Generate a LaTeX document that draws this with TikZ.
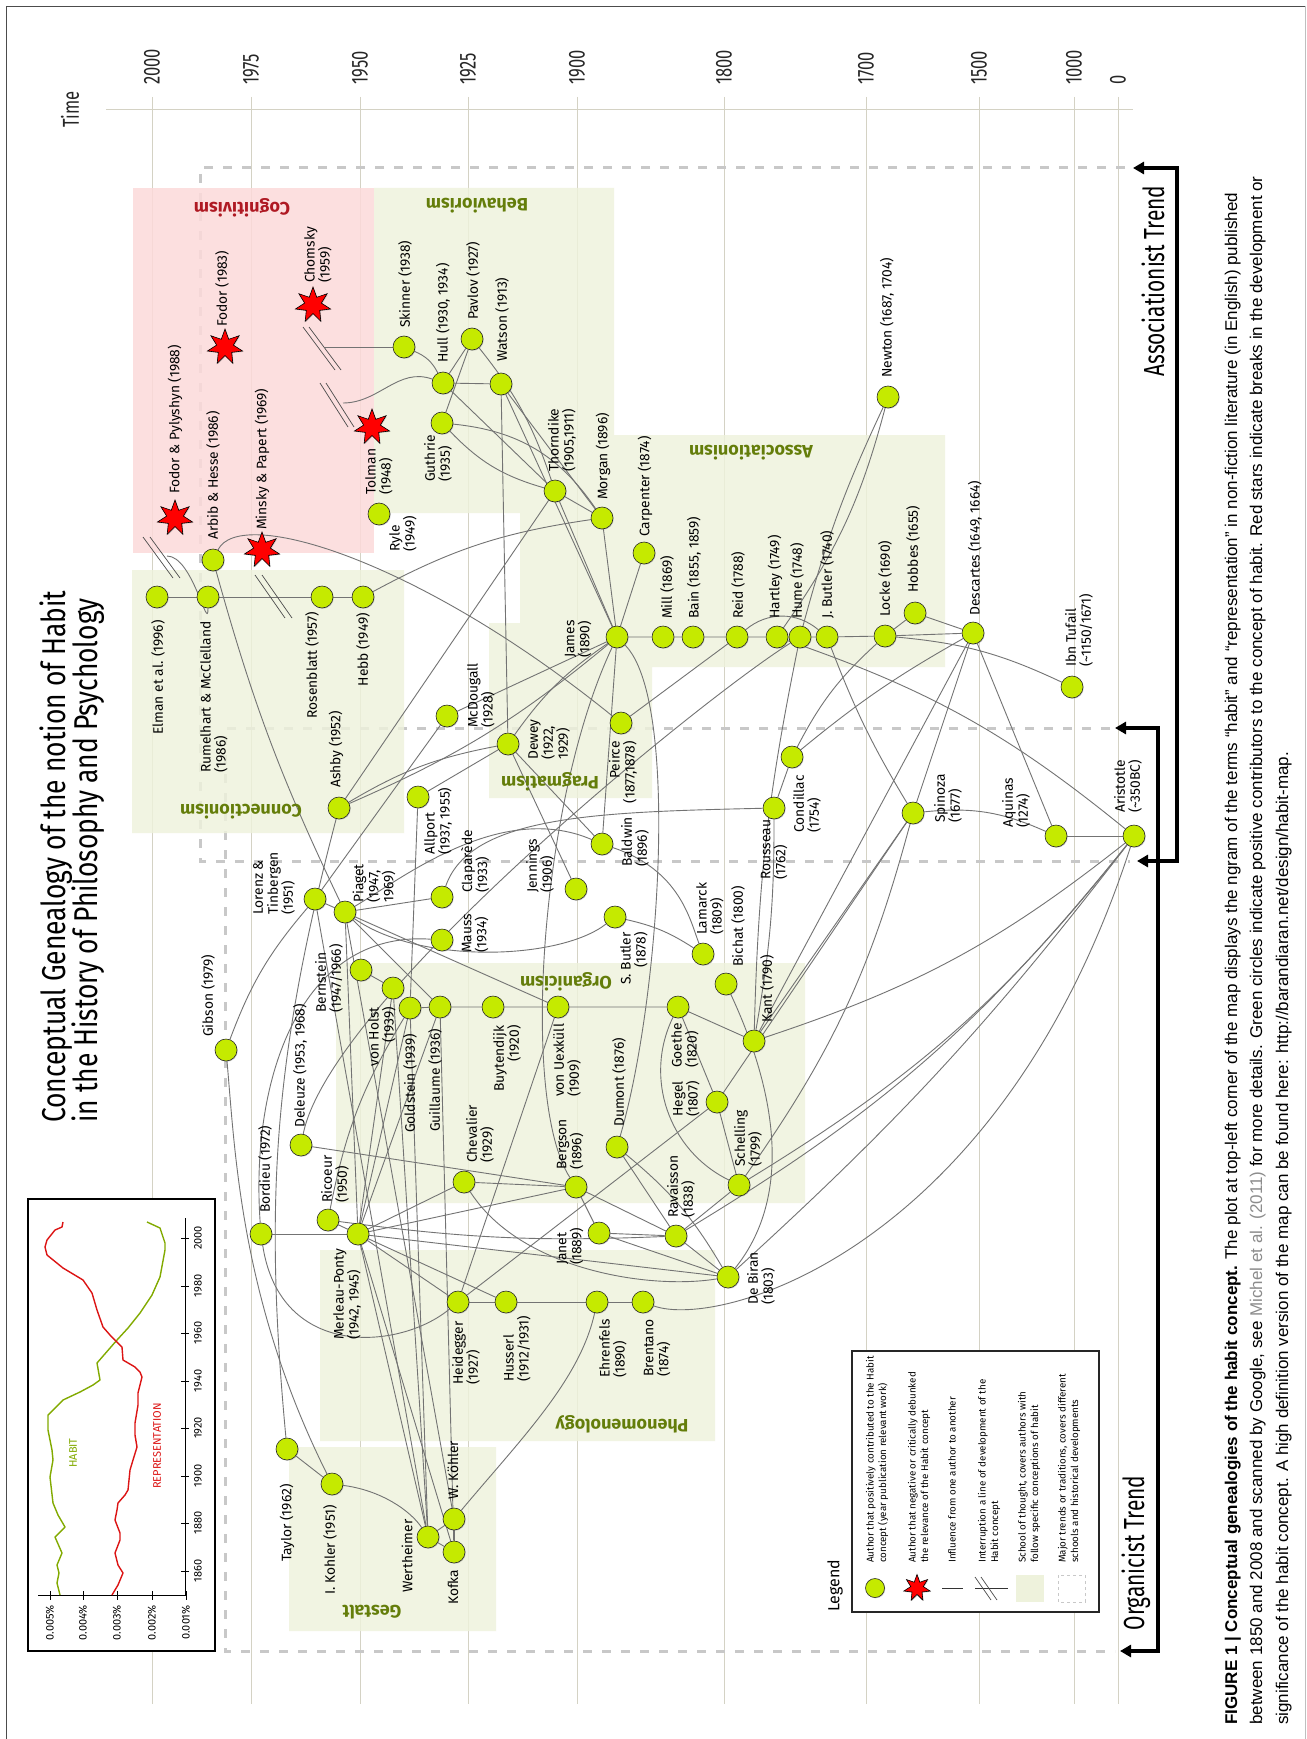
\documentclass[tikz,border=0pt]{standalone}
\usepackage{fontspec}
\setmainfont{Liberation Sans}
\newfontfamily\fa{Fira Sans}
\newfontfamily\fc[FakeStretch=0.8]{Fira Sans}
\newfontfamily\fcc[FakeStretch=0.72]{Fira Sans}
\usetikzlibrary{shapes.geometric,arrows.meta,shadows}
\definecolor{ng}{RGB}{197,234,0}
\definecolor{boxg}{RGB}{238,242,220}
\definecolor{boxp}{RGB}{252,218,218}
\definecolor{schg}{RGB}{100,125,10}
\definecolor{schr}{RGB}{175,25,35}
\definecolor{gridc}{RGB}{212,210,196}
\definecolor{edgec}{RGB}{115,115,115}
\definecolor{dashc}{RGB}{200,200,200}
\definecolor{habg}{RGB}{130,170,0}
\definecolor{repr}{RGB}{220,20,20}
\pgfdeclarelayer{bg}
\pgfdeclarelayer{edges}
\pgfsetlayers{bg,edges,main}
\tikzset{
  au/.style={circle, draw=black!85, fill=ng, minimum size=22pt, inner sep=0pt, line width=0.6pt,
     drop shadow={shadow xshift=0.8pt, shadow yshift=-0.8pt, opacity=0.35}},
  bk/.style={star, star points=7, star point ratio=2.1, minimum size=36pt, inner sep=0pt, fill=red,
     draw=black, line width=0.6pt, drop shadow={shadow xshift=0.8pt, shadow yshift=-0.8pt, opacity=0.35}},
  lb/.style={rotate=90, anchor=west, align=left, inner sep=0pt, font=\fa\fontsize{13.8}{15}\selectfont},
  lbr/.style={rotate=90, anchor=east, align=right, inner sep=0pt, font=\fa\fontsize{13.8}{15}\selectfont},
  ed/.style={draw=edgec, line width=0.9pt},
  yr/.style={rotate=90, anchor=west, inner sep=0pt, font=\fcc\fontsize{23}{23}\selectfont, text=black!85},
  sch/.style={rotate=180, inner sep=0pt, text=schg, font=\fa\bfseries\fontsize{18}{18}\selectfont},
  slash/.style={draw=black!70, line width=0.7pt},
  trend/.style={line width=4pt, {Triangle[length=11pt,width=12pt]}-{Triangle[length=11pt,width=12pt]}},
  dsh/.style={draw=dashc, line width=3pt, dash pattern=on 9pt off 10pt},
  lg/.style={rotate=90, anchor=west, align=left, inner sep=0pt, font=\fa\fontsize{9.8}{12.5}\selectfont},
  inl/.style={rotate=90, inner sep=0pt, font=\fa\fontsize{11}{11}\selectfont},
}
\begin{document}
\begin{tikzpicture}[x=1pt,y=-1pt]
\useasboundingbox (0,0) rectangle (1306,1739);

% ---------------- background: grid, dashes, boxes
\begin{pgfonlayer}{bg}
\fill[white] (0,0) rectangle (1306,1739);
\draw[black!70, line width=0.8pt] (6,1739) -- (6,6) -- (1305,6);
\draw[black!25, line width=0.8pt] (1305,6) -- (1305,1739);
\draw[gridc, line width=1pt] (106,110) -- (1133,110);
\foreach \x in {152,251,360,468,577,724,866,979,1074,1118}
  \draw[gridc, line width=1pt] (\x,97) -- (\x,1704);
\draw[dsh] (1125,168) -- (200,168) -- (200,861) -- (1130,861);
\draw[dsh] (1110,728) -- (225,728) -- (225,1651) -- (1115,1651);
\fill[boxp, fill opacity=0.85] (133,188) rectangle (374,553);
\fill[boxg, fill opacity=0.82]
  (374,188) rectangle (614,513)
  (520,435) rectangle (945,667)
  (489,623) rectangle (652,798)
  (132,570) rectangle (404,833)
  (336,963) rectangle (805,1203)
  (320,1250) rectangle (715,1441)
  (289,1447) rectangle (496,1631);
\end{pgfonlayer}

% ---------------- time axis
\foreach \x/\t in {152/2000,251/1975,360/1950,468/1925,577/1900,724/1800,866/1700,979/1500,1074/1000,1118/0}
  \node[yr] (yr\t) at (\x,85) {\t};
\node[yr] (time) at (70,128) {Time};

% ---------------- title
\node[rotate=90, anchor=base west, inner sep=0pt, font=\fc\fontsize{33}{33}\selectfont] (title1) at (65,1123) {Conceptual Genealogy of the notion of Habit};
\node[rotate=90, anchor=base west, inner sep=0pt, font=\fc\fontsize{33}{33}\selectfont] (title2) at (97,1123) {in the History of Philosophy and Psychology};

% ---------------- school labels
\node[sch, text=schr] (scog) at (242,208) {Cognitivism};
\node[sch] (sbeh) at (477,206) {Behaviorism};
\node[sch] (sass) at (751,453) {Associationism};
\node[sch] (sprag) at (550,782) {Pragmatism};
\node[sch] (scon) at (241,812) {Connectionism};
\node[sch] (sorg) at (566,982) {Organicism};
\node[sch] (sphe) at (622,1424) {Phenomenology};
\node[sch] (sges) at (372,1612) {Gestalt};

% ---------------- authors
\node[bk] (fodpyl) at (175,518) {};
\node[bk] (minsky) at (262,550) {};
\node[bk] (fodor) at (225,347) {};
\node[bk] (chomsky) at (313,305) {};
\node[bk] (tolman) at (372,427) {};
\foreach \n/\x/\y in {arbib/213/560, skinner/404/347, hull/443/383, pavlov/472/339, watson/501/384,
  guthrie/442/423, ryle/379/514, thorndike/555/491, morgan/602/518, carpenter/644/553, james/617/637,
  mill/663/637, bain/693/637, reid/737/637, hartley/777/637, hume/800/637, jbutler/827/637,
  locke/885/636, hobbes/915/613, descartes/973/633, ibntufail/1072/687, newton/888/397,
  elman/157/597, rumel/208/597, rosen/322/597, hebb/363/597, ashby/339/808, allport/418/797,
  mcdougall/447/716, dewey/508/744, peirce/621/723, baldwin/602/844, condillac/792/757,
  rousseau/774/808, spinoza/913/813, aquinas/1056/836, aristotle/1134/836, claparede/442/897,
  mauss/442/940, jennings/576/889, sbutler/615/917, lamarck/703/954, bichat/726/984, kant/754/1041,
  goethe/678/1007, hegel/717/1102, schelling/739/1185, ravaisson/676/1236, debiran/728/1277,
  dumont/617/1147, bergson/576/1187, janet/599/1233, chevalier/464/1182, buyt/493/1007,
  uexkull/558/1007, guillaume/440/1007, goldstein/410/1008, vonholst/393/988, bernstein/361/970,
  lorenz/315/899, piaget/345/912, gibson/226/1050, deleuze/301/1145, bordieu/261/1234,
  ricoeur/328/1220, merleau/358/1234, heidegger/458/1302, husserl/506/1302, ehrenfels/597/1302,
  brentano/643/1302, wkohler/454/1519, kofka/454/1552, wertheimer/428/1537, ikohler/332/1484,
  taylor/287/1449}
  \node[au] (\n) at (\x,\y) {};

% ---------------- author labels
\node[lb] (Lfodpyl) at (175,494) {Fodor \& Pylyshyn (1988)};
\node[lb] (Larbib) at (213,540) {Arbib \& Hesse (1986)};
\node[lb] (Lminsky) at (262,530) {Minsky \& Papert (1969)};
\node[lb] (Lfodor) at (222,327) {Fodor (1983)};
\node[lb] (Lchomsky) at (318,283) {Chomsky\\(1959)};
\node[lb] (Ltolman) at (379,495) {Tolman\\(1948)};
\node[lb] (Lryle) at (403,552) {Ryle\\(1949)};
\node[lb] (Lskinner) at (405,328) {Skinner (1938)};
\node[lb] (Lhull) at (443,363) {Hull (1930, 1934)};
\node[lb] (Lpavlov) at (473,320) {Pavlov (1927)};
\node[lb] (Lwatson) at (502,362) {Watson (1913)};
\node[lb] (Lguthrie) at (438,482) {Guthrie\\(1935)};
\node[lb] (Lthorndike) at (562,472) {Thorndike\\(1905,1911)};
\node[lb] (Lmorgan) at (603,500) {Morgan (1896)};
\node[lb] (Lcarpenter) at (645,537) {Carpenter (1874)};
\node[lb] (Ljames) at (578,658) {James\\(1890)};
\node[lb] (Lmill) at (667,619) {Mill (1869)};
\node[lb] (Lbain) at (694,619) {Bain (1855, 1859)};
\node[lb] (Lreid) at (738,619) {Reid (1788)};
\node[lb] (Lhartley) at (775,619) {Hartley (1749)};
\node[lb] (Lhume) at (797,619) {Hume (1748)};
\node[lb] (Ljbutler) at (827,619) {J. Butler (1740)};
\node[lb] (Llocke) at (885,617) {Locke (1690)};
\node[lb] (Lhobbes) at (913,593) {Hobbes (1655)};
\node[lb] (Ldescartes) at (975,616) {Descartes (1649, 1664)};
\node[lb] (Libntufail) at (1079,667) {Ibn Tufail\\(\textasciitilde1150/1671)};
\node[lb] (Lnewton) at (887,378) {Newton (1687, 1704)};
\node[lbr] (Lelman) at (158,620) {Elman et al. (1996)};
\node[lb] (Lrumel) at (214,773) {Rumelhart \& McClelland\\(1986)};
\node[lbr] (Lrosen) at (312,612) {Rosenblatt (1957)};
\node[lbr] (Lhebb) at (363,613) {Hebb (1949)};
\node[lb] (Lashby) at (336,788) {Ashby (1952)};
\node[lb] (Lallport) at (438,855) {Allport\\(1937, 1955)};
\node[lb] (Lmcdougall) at (481,728) {McDougall\\(1928)};
\node[lb] (Ldewey) at (549,760) {Dewey\\(1922,\\1929)};
\node[lbr] (Lpeirce) at (623,741) {Peirce\\(1877,1878)};
\node[lb] (Lbaldwin) at (635,867) {Baldwin\\(1896)};
\node[lb] (Lcondillac) at (807,833) {Condillac\\(1754)};
\node[lb] (Lrousseau) at (774,880) {Rousseau\\(1762)};
\node[lb] (Lspinoza) at (948,823) {Spinoza\\(1677)};
\node[lb] (Laquinas) at (1016,828) {Aquinas\\(1274)};
\node[lb] (Laristotle) at (1128,813) {Aristotle\\(\textasciitilde350BC)};
\node[lb] (Lclaparede) at (475,893) {Claparède\\(1933)};
\node[lb] (Lmauss) at (475,953) {Mauss\\(1934)};
\node[lb] (Ljennings) at (540,893) {Jennings\\(1906)};
\node[lbr] (Lsbutler) at (634,932) {S. Butler\\(1878)};
\node[lb] (Llamarck) at (710,935) {Lamarck\\(1809)};
\node[lb] (Lbichat) at (738,967) {Bichat (1800)};
\node[lb] (Lkant) at (767,1023) {Kant (1790)};
\node[lb] (Lgoethe) at (685,1068) {Goethe\\(1820)};
\node[lb] (Lhegel) at (686,1117) {Hegel\\(1807)};
\node[lb] (Lschelling) at (748,1167) {Schelling\\(1799)};
\node[lb] (Lravaisson) at (681,1218) {Ravaisson\\(1838)};
\node[lb] (Ldebiran) at (761,1305) {De Biran\\(1803)};
\node[lb] (Ldumont) at (619,1127) {Dumont (1876)};
\node[lb] (Lbergson) at (570,1170) {Bergson\\(1896)};
\node[lb] (Ljanet) at (570,1265) {Janet\\(1889)};
\node[lb] (Lchevalier) at (480,1163) {Chevalier\\(1929)};
\node[lbr] (Lbuyt) at (507,1025) {Buytendijk\\(1920)};
\node[lb] (Luexkull) at (567,1097) {von Uexküll\\(1909)};
\node[lb] (Lguillaume) at (435,1132) {Guillaume (1936)};
\node[lb] (Lgoldstein) at (410,1133) {Goldstein (1939)};
\node[lbr] (Lvonholst) at (382,1007) {von Holst\\(1939)};
\node[lb] (Lbernstein) at (329,1013) {Bernstein\\(1947/1966)};
\node[lb] (Llorenz) at (274,915) {Lorenz \&\\Tinbergen\\(1951)};
\node[lb] (Lpiaget) at (374,903) {Piaget\\(1947,\\1969)};
\node[lb] (Lgibson) at (208,1037) {Gibson (1979)};
\node[lb] (Ldeleuze) at (300,1128) {Deleuze (1953, 1968)};
\node[lb] (Lbordieu) at (265,1213) {Bordieu (1972)};
\node[lb] (Lricoeur) at (335,1203) {Ricoeur\\(1950)};
\node[lb] (Lmerleau) at (347,1340) {Merleau-Ponty\\(1942, 1945)};
\node[lb] (Lheidegger) at (466,1385) {Heidegger\\(1927)};
\node[lb] (Lhusserl) at (517,1382) {Husserl\\(1912/1931)};
\node[lb] (Lehrenfels) at (613,1378) {Ehrenfels\\(1890)};
\node[lb] (Lbrentano) at (657,1377) {Brentano\\(1874)};
\node[lb] (Lwkohler) at (453,1500) {W. Köhler};
\node[lb] (Lkofka) at (453,1605) {Kofka};
\node[lb] (Lwertheimer) at (407,1593) {Wertheimer};
\node[lb] (Likohler) at (330,1595) {I. Kohler (1951)};
\node[lb] (Ltaylor) at (287,1562) {Taylor (1962)};

% ---------------- interruption marks
\coordinate (i1) at (325,347);
\coordinate (i2) at (343,403);
\coordinate (i3) at (167,556);
\draw[slash] (303,327) -- (335,370); \draw[slash] (309,327) -- (341,370);
\draw[slash] (320,383) -- (348,427); \draw[slash] (326,383) -- (354,427);
\draw[slash] (143,537) -- (173,578); \draw[slash] (150,537) -- (180,578);
\draw[slash] (255,575) -- (285,618); \draw[slash] (262,575) -- (292,618);

% ---------------- connectors
\begin{pgfonlayer}{edges}
\draw[ed] (skinner) to[bend left=20] (hull);
\draw[ed] (skinner) -- (i1);
\draw[ed] (hull) to[out=160,in=0] (i2);
\draw[ed] (hull) -- (pavlov);
\draw[ed] (hull) -- (watson);
\draw[ed] (guthrie) -- (pavlov);
\draw[ed] (hull) -- (thorndike);
\draw[ed] (guthrie) to[bend right=15] (thorndike);
\draw[ed] (pavlov) to[bend left=10] (thorndike);
\draw[ed] (watson) -- (morgan);
\draw[ed] (watson) -- (james);
\draw[ed] (thorndike) -- (morgan);
\draw[ed] (thorndike) -- (james);
\draw[ed] (morgan) -- (james);
\draw[ed] (carpenter) -- (james);
\draw[ed] (watson) -- (dewey);
\draw[ed] (guthrie) to[bend left=25] (morgan);
\draw[ed] (elman) -- (rumel);
\draw[ed] (rumel) -- (rosen);
\draw[ed] (rosen) -- (hebb);
\draw[ed] (rumel) to[out=270,in=0] (i3);
\draw[ed] (hebb) to[bend left=10] (morgan);
\draw[ed] (arbib) .. controls (240,505) and (420,560) .. (peirce);
\draw[ed] (arbib) to[bend right=5] (piaget);
\draw[ed] (ashby) -- (thorndike);
\draw[ed] (ashby) to[bend right=8] (james);
\draw[ed] (ashby) to[bend left=10] (dewey);
\draw[ed] (ashby) to[bend right=10] (taylor);
\draw[ed] (james) -- (mill) -- (bain) -- (reid) -- (hartley) -- (hume) -- (jbutler) -- (locke) -- (descartes);
\draw[ed] (locke) -- (hobbes);
\draw[ed] (hobbes) -- (descartes);
\draw[ed] (locke) to[bend left=10] (ibntufail);
\draw[ed] (newton) to[bend left=10] (hartley);
\draw[ed] (newton) to[bend right=5] (hume);
\draw[ed] (reid) to[bend left=40] (jbutler);
\draw[ed] (peirce) -- (reid);
\draw[ed] (hume) to[bend right=5] (kant);
\draw[ed] (hartley) to[bend left=10] (aristotle);
\draw[ed] (jbutler) to[bend right=5] (spinoza);
\draw[ed] (descartes) -- (spinoza);
\draw[ed] (descartes) -- (aquinas);
\draw[ed] (descartes) -- (kant);
\draw[ed] (descartes) to[bend right=5] (condillac);
\draw[ed] (locke) to[bend right=10] (condillac);
\draw[ed] (condillac) -- (rousseau);
\draw[ed] (rousseau) to[bend left=5] (kant);
\draw[ed] (rousseau) .. controls (600,812) and (470,815) .. (claparede);
\draw[ed] (spinoza) to[bend left=15] (aquinas);
\draw[ed] (aquinas) -- (aristotle);
\draw[ed] (spinoza) -- (hegel);
\draw[ed] (spinoza) to[bend left=10] (schelling);
\draw[ed] (kant) -- (spinoza);
\draw[ed] (aristotle) to[bend left=10] (kant);
\draw[ed] (aristotle) to[bend left=10] (schelling);
\draw[ed] (aristotle) to[bend left=10] (ravaisson);
\draw[ed] (aristotle) to[bend left=5] (debiran);
\draw[ed] (brentano) .. controls (720,1330) and (1000,1250) .. (aristotle);
\draw[ed] (goldstein) -- (guillaume) -- (buyt) -- (uexkull) -- (goethe);
\draw[ed] (goethe) -- (kant);
\draw[ed] (goethe) -- (hegel);
\draw[ed] (goethe) to[bend right=45] (schelling);
\draw[ed] (hegel) -- (schelling);
\draw[ed] (hegel) -- (heidegger);
\draw[ed] (uexkull) -- (heidegger);
\draw[ed] (schelling) -- (ravaisson);
\draw[ed] (ravaisson) -- (bergson);
\draw[ed] (ravaisson) -- (janet);
\draw[ed] (ravaisson) -- (dumont);
\draw[ed] (ravaisson) -- (debiran);
\draw[ed] (janet) -- (debiran);
\draw[ed] (janet) -- (bergson);
\draw[ed] (dumont) to[bend left=10] (debiran);
\draw[ed] (dumont) .. controls (660,1000) and (680,700) .. (james);
\draw[ed] (bichat) .. controls (780,1100) and (790,1200) .. (debiran);
\draw[ed] (sbutler) to[bend left=10] (lamarck);
\draw[ed] (baldwin) .. controls (680,870) and (690,920) .. (lamarck);
\draw[ed] (chevalier) -- (bergson);
\draw[ed] (chevalier) .. controls (520,1270) and (650,1290) .. (debiran);
\draw[ed] (chevalier) -- (merleau);
\draw[ed] (bergson) .. controls (520,1100) and (540,800) .. (james);
\draw[ed] (bergson) -- (merleau);
\draw[ed] (bergson) -- (deleuze);
\draw[ed] (sbutler) .. controls (560,960) and (420,965) .. (piaget);
\draw[ed] (bordieu) .. controls (250,1080) and (300,930) .. (mauss);
\draw[ed] (claparede) -- (piaget);
\draw[ed] (jennings) -- (dewey);
\draw[ed] (baldwin) -- (james);
\draw[ed] (baldwin) .. controls (500,800) and (400,880) .. (piaget);
\draw[ed] (dewey) to[bend left=10] (james);
\draw[ed] (dewey) -- (allport);
\draw[ed] (dewey) -- (baldwin);
\draw[ed] (allport) -- (goldstein);
\draw[ed] (mcdougall) -- (james);
\draw[ed] (mcdougall) -- (lorenz);
\draw[ed] (ricoeur) -- (merleau);
\draw[ed] (ricoeur) to[bend left=10] (goldstein);
\draw[ed] (ricoeur) to[bend right=5] (ravaisson);
\draw[ed] (bordieu) -- (merleau);
\draw[ed] (bordieu) .. controls (280,1360) and (400,1350) .. (heidegger);
\draw[ed] (deleuze) .. controls (330,1000) and (700,700) .. (hume);
\draw[ed] (gibson) to[bend left=10] (lorenz);
\draw[ed] (gibson) .. controls (235,1150) and (240,1300) .. (ikohler);
\draw[ed] (merleau) -- (goldstein);
\draw[ed] (merleau) -- (guillaume);
\draw[ed] (merleau) -- (vonholst);
\draw[ed] (merleau) -- (piaget);
\draw[ed] (merleau) -- (heidegger);
\draw[ed] (merleau) -- (husserl);
\draw[ed] (merleau) -- (wertheimer);
\draw[ed] (merleau) -- (kofka);
\draw[ed] (merleau) -- (debiran);
\draw[ed] (heidegger) -- (husserl) -- (ehrenfels) -- (brentano);
\draw[ed] (ehrenfels) .. controls (580,1380) and (520,1440) .. (wkohler);
\draw[ed] (wertheimer) -- (kofka);
\draw[ed] (wertheimer) -- (wkohler);
\draw[ed] (kofka) -- (wkohler);
\draw[ed] (ikohler) .. controls (380,1490) and (410,1510) .. (wertheimer);
\draw[ed] (taylor) -- (ikohler);
\draw[ed] (goldstein) -- (wertheimer);
\draw[ed] (guillaume) -- (kofka);
\draw[ed] (vonholst) -- (wertheimer);
\draw[ed] (piaget) -- (wkohler);
\draw[ed] (piaget) -- (guillaume);
\draw[ed] (bernstein) -- (vonholst);
\draw[ed] (lorenz) -- (uexkull);
\draw[ed] (lorenz) -- (wertheimer);
\end{pgfonlayer}

% ---------------- trend brackets
\draw[trend] (1133,168) -- (1177,168) -- (1177,861) -- (1137,861);
\draw[trend] (1115,728) -- (1158,728) -- (1158,1651) -- (1120,1651);
\node[rotate=90, inner sep=0pt, font=\fcc\fontsize{29}{29}\selectfont] (atrend) at (1153,281) {Associationist Trend};
\node[rotate=90, inner sep=0pt, font=\fcc\fontsize{29}{29}\selectfont] (otrend) at (1136,1553) {Organicist Trend};

% ---------------- inset ngram plot
\draw[black, line width=1.5pt, fill=white] (28,1199) rectangle (215,1651);
\draw[black, line width=1pt] (185,1218) -- (185,1595) -- (38,1595);
\foreach \y/\t in {1238/2000,1286/1980,1333/1960,1381/1940,1428/1920,1476/1900,1523/1880,1571/1860} {
  \draw[black, line width=1pt] (181,\y) -- (189,\y);
  \node[inl] (iy\t) at (198,\y) {\t};
}
\foreach \x/\t in {50/005,83/004,117/003,152/002,186/001} {
  \draw[black, line width=1pt] (\x,1591) -- (\x,1600);
  \node[inl, anchor=east] (ip\t) at (\x,1605) {0.\t\%};
}
\draw[habg, line width=1.4pt, line join=round] plot coordinates {(60,1595) (57,1583) (59,1573) (57,1565) (62,1553) (55,1537) (65,1527) (58,1515) (53,1503) (50,1477) (53,1460) (52,1450) (48,1430) (48,1415) (63,1400) (80,1392) (93,1385) (100,1380) (97,1363) (117,1340) (128,1328) (140,1313) (152,1295) (160,1277) (165,1250) (165,1243) (160,1228) (147,1222)};
\draw[repr, line width=1.4pt, line join=round] plot coordinates {(112,1595) (118,1585) (123,1573) (118,1565) (115,1553) (120,1540) (120,1533) (115,1520) (117,1510) (118,1503) (125,1495) (128,1490) (130,1470) (133,1460) (137,1447) (135,1435) (135,1423) (138,1405) (138,1393) (142,1377) (140,1372) (135,1367) (123,1360) (122,1347) (110,1335) (103,1327) (97,1310) (92,1293) (83,1280) (63,1268) (47,1255) (45,1247) (47,1240) (55,1230) (62,1227) (63,1222)};
\node[inl, text=habg] (habit) at (73,1453) {HABIT};
\node[inl, text=repr] (reprl) at (157,1446) {REPRESENTATION};

% ---------------- legend
\node[rotate=90, anchor=west, inner sep=0pt, font=\fa\fontsize{16}{16}\selectfont] (legendt) at (835,1612) {Legend};
\draw[black!85, line width=1.5pt, fill=white] (852,1351) rectangle (1099,1612);
\node[au, minimum size=19pt] (lgc) at (875,1588) {};
\node[bk, minimum size=27pt] (lgs) at (917,1588) {};
\coordinate (lga) at (942,1588); \coordinate (lgb) at (963,1588);
\draw[ed, draw=black!80] (lga) -- (lgb);
\coordinate (lgc1) at (975,1588); \coordinate (lgc2) at (1008,1588);
\draw[ed, draw=black!80] (lgc1) -- (lgc2);
\draw[slash] (975,1577) -- (991,1600); \draw[slash] (981,1577) -- (997,1600);
\fill[boxg] (1016,1575) rectangle (1044,1602);
\draw[dashc, line width=1pt, dash pattern=on 3pt off 3pt] (1058,1575) rectangle (1085,1602);
\node[lg] (lt1) at (877,1563) {Author that positively contributed to the Habit\\concept (year publication relevant work)};
\node[lg] (lt2) at (919,1563) {Author that negative or critically debunked\\the relevance of the Habit concept};
\node[lg] (lt3) at (952,1563) {Influence from one author to another};
\node[lg] (lt4) at (989,1563) {Interruption a line of development of the\\Habit concept};
\node[lg] (lt5) at (1029,1563) {School of thought, covers authors with\\follow specific conceptions of habit};
\node[lg] (lt6) at (1069,1563) {Major trends or traditions, covers different\\schools and historical developments};

% ---------------- caption
\node[rotate=90, anchor=base west, inner sep=0pt, font=\fontsize{17}{17}\selectfont] (cap1) at (1237,1725) {\textbf{FIGURE 1 | Conceptual genealogies of the habit concept.} The plot at top-left corner of the map displays the ngram of the terms “habit” and “representation” in non-fiction literature (in English) published};
\node[rotate=90, anchor=base west, inner sep=0pt, font=\fontsize{17}{17}\selectfont] (cap2) at (1262,1725) {between 1850 and 2008 and scanned by Google, see {\color{black!45}Michel et al. (2011)} for more details. Green circles indicate positive contributors to the concept of habit. Red stars indicate breaks in the development or};
\node[rotate=90, anchor=base west, inner sep=0pt, font=\fontsize{17}{17}\selectfont] (cap3) at (1288,1725) {significance of the habit concept. A high definition version of the map can be found here: http://barandiaran.net/design/habit-map.};
\end{tikzpicture}
\end{document}
